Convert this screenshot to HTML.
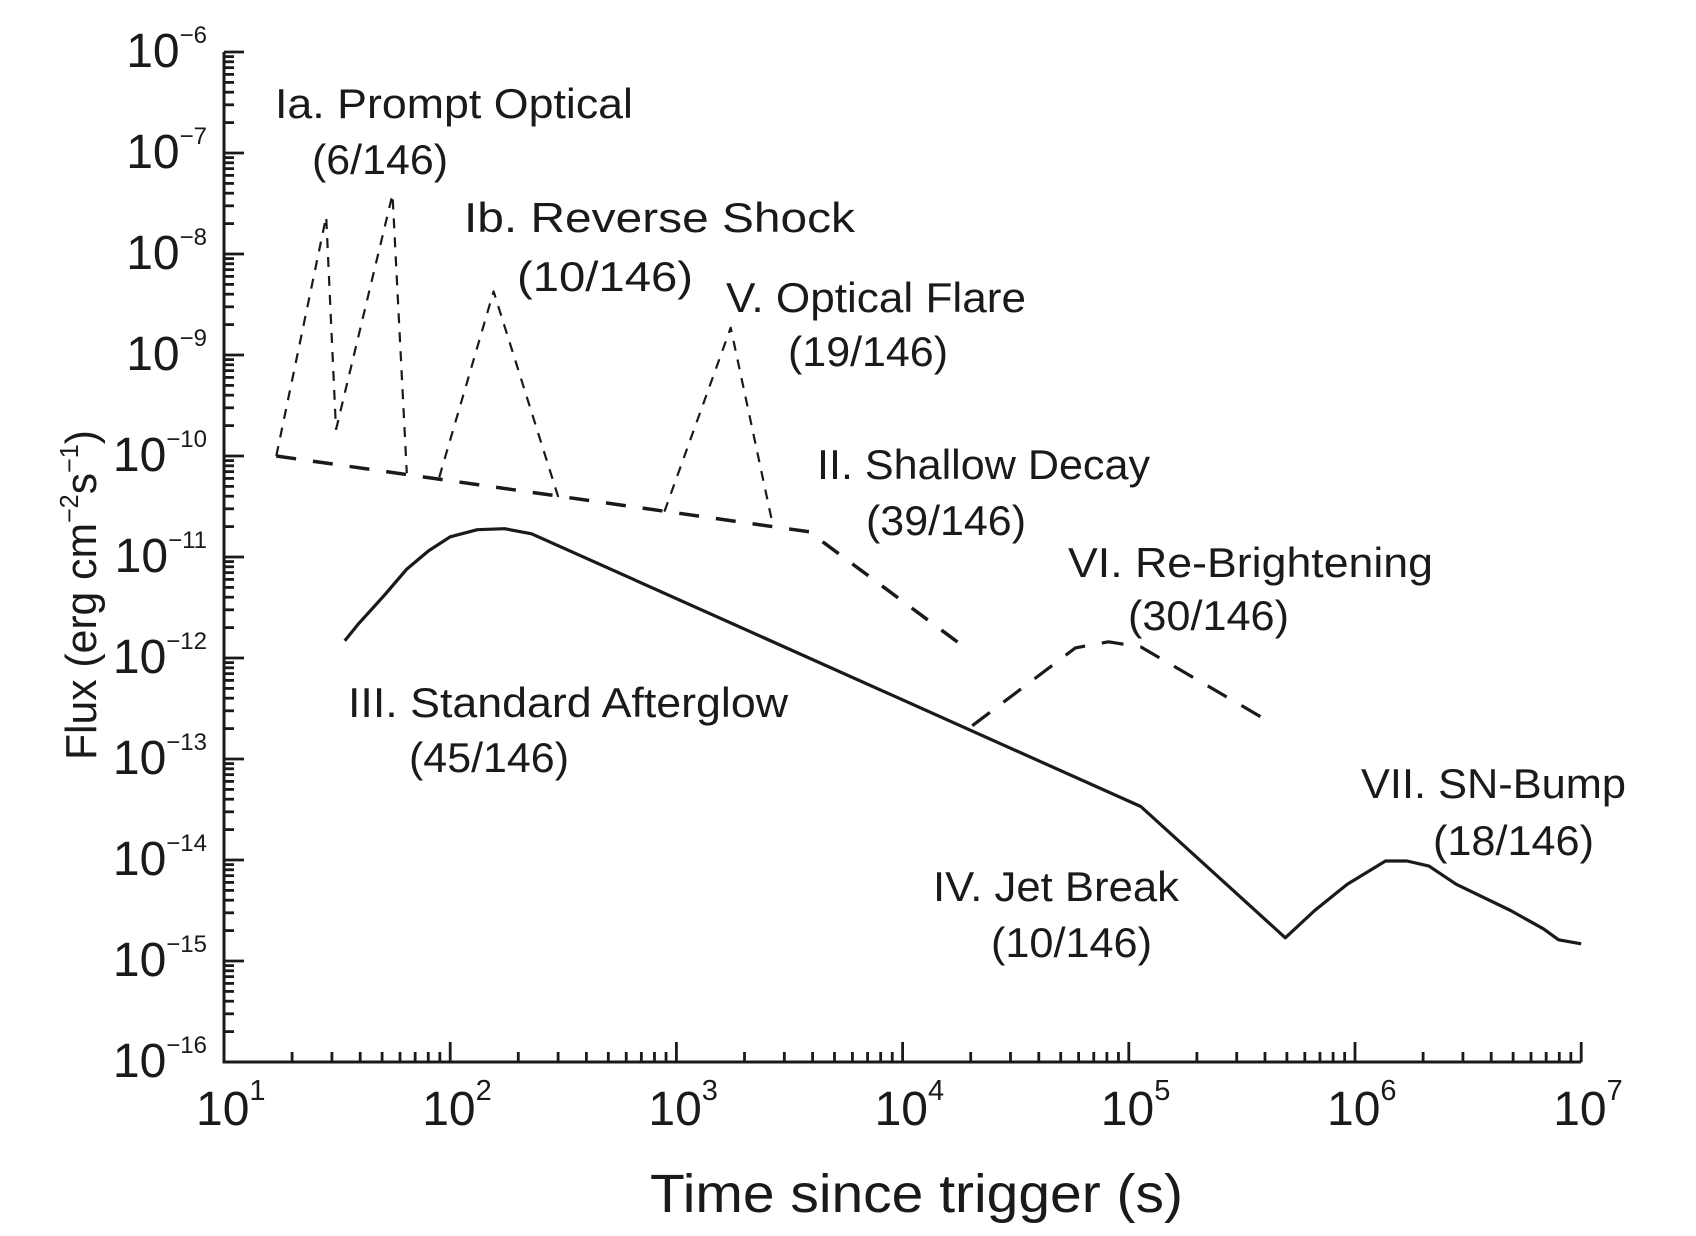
<!DOCTYPE html>
<html><head><meta charset="utf-8"><style>
html,body{margin:0;padding:0;background:#fff;}
svg{display:block;font-family:"Liberation Sans",Arial,sans-serif;}
</style></head><body>
<svg id="chart" width="1696" height="1236" viewBox="0 0 1696 1236">
<g id="axes"></g>
<g id="series"></g>
<g id="labels" fill="#1a1a1a" font-size="42"></g>
</svg>
<script>
// ---- data (log10 time [s], log10 flux) ----
const xTickExps = [1,2,3,4,5,6,7];
const yTickExps = [-6,-7,-8,-9,-10,-11,-12,-13,-14,-15,-16];
const afterglowT = [1.534,1.591,1.712,1.808,1.904,2.0,2.12,2.24,2.36,5.053,5.692,5.822,5.966,6.135,6.23,6.327,6.447,6.688,6.832,6.90,7.0];
const afterglowF = [-11.83,-11.67,-11.37,-11.12,-10.94,-10.80,-10.73,-10.72,-10.77,-13.47,-14.77,-14.50,-14.24,-14.01,-14.01,-14.06,-14.24,-14.50,-14.68,-14.79,-14.83];
const shallowT = [1.231,3.587,4.26];
const shallowF = [-10.0,-10.75,-11.87];
const rebrightT = [4.308,4.764,4.91,5.053,5.582];
const rebrightF = [-12.67,-11.90,-11.84,-11.89,-12.58];
const prompt1T = [1.231,1.452,1.495];
const prompt1F = [-10.0,-7.63,-9.74];
const prompt2T = [1.495,1.745,1.808];
const prompt2F = [-9.74,-7.41,-10.17];
const reverseT = [1.952,2.192,2.481];
const reverseF = [-10.21,-8.37,-10.43];
const flareT = [2.947,3.24,3.428];
const flareF = [-10.55,-8.73,-10.70];

const NS = 'http://www.w3.org/2000/svg';
const X0 = 224, XD = 226.2, Y0 = 52, YD = 101;
function sx(lt){ return X0 + (lt - 1) * XD; }
function sy(lf){ return Y0 + (-6 - lf) * YD; }
function mk(tag, attrs, parent){ const e = document.createElementNS(NS, tag); for (const k in attrs) e.setAttribute(k, attrs[k]); parent.appendChild(e); return e; }

const axes = document.getElementById('axes');
const ser = document.getElementById('series');

let yl = mk('line', {x1:X0, y1:sy(-6), x2:X0, y2:sy(-16)+1.5, stroke:'#1a1a1a','stroke-width':3}, axes);


let xl = mk('line', {x1:X0-1.5, y1:sy(-16), x2:sx(7), y2:sy(-16), stroke:'#1a1a1a','stroke-width':3}, axes);



xTickExps.forEach(function(e, i){
  const x = sx(e);
  if (i > 0) { let t = mk('line', {x1:x, y1:sy(-16), x2:x, y2:sy(-16)-20, stroke:'#1a1a1a','stroke-width':2.8}, axes);
    
     }
  if (i < xTickExps.length - 1) {
    for (let m = 2; m <= 9; m++) { const xm = sx(e + Math.log10(m));
      let t = mk('line', {x1:xm, y1:sy(-16), x2:xm, y2:sy(-16)-10, stroke:'#1a1a1a','stroke-width':2.8}, axes);
      
       }
  }
  const tx = mk('text', {x:x-28, y:1125, 'font-size':48, fill:'#1a1a1a'}, axes);
  tx.textContent = '10';
  const sp = mk('tspan', {dy:-25, 'font-size':29}, tx);
  sp.textContent = String(e);
  
  
});
yTickExps.forEach(function(e, i){
  const y = sy(e);
  if (i < yTickExps.length - 1) {
    let t = mk('line', {x1:X0, y1:y, x2:X0+20, y2:y, stroke:'#1a1a1a','stroke-width':2.8}, axes);
    
    
    for (let m = 2; m <= 9; m++) { const ym = sy(e - 1 + Math.log10(m));
      let t2 = mk('line', {x1:X0, y1:ym, x2:X0+10, y2:ym, stroke:'#1a1a1a','stroke-width':2.8}, axes);
      
       }
  }
  const tx = mk('text', {x:207, y:y+15, 'font-size':48, fill:'#1a1a1a', 'text-anchor':'end'}, axes);
  tx.textContent = '10';
  const sp = mk('tspan', {dy:-24, 'font-size':24}, tx);
  sp.textContent = '\u2212' + String(-e);
  
  
});

function poly(T, F, name, width, dash){
  const pts = T.map(function(t, i){ return sx(t).toFixed(1) + ',' + sy(F[i]).toFixed(1); }).join(' ');
  const p = mk('polyline', {points:pts, fill:'none', stroke:'#1a1a1a', 'stroke-width':width, 'stroke-linejoin':'round'}, ser);
  if (dash) p.setAttribute('stroke-dasharray', dash);
  
  
}
poly(afterglowT, afterglowF, 'standard-afterglow-line', 3.2, null);
poly(shallowT, shallowF, 'shallow-decay-line', 3.5, '20 17');
poly(rebrightT, rebrightF, 'rebrightening-line', 3.2, '22 17');
poly(prompt1T, prompt1F, 'prompt-optical-peak-1', 2.2, '10 9');
poly(prompt2T, prompt2F, 'prompt-optical-peak-2', 2.2, '10 9');
poly(reverseT, reverseF, 'reverse-shock-line', 2.2, '10 9');
poly(flareT, flareF, 'optical-flare-line', 2.2, '10 9');
</script>
<script>
(function(){
  const NS = 'http://www.w3.org/2000/svg';
  const lab = document.getElementById('labels');
  function t(x, y, w, str, name){
    const e = document.createElementNS(NS, 'text');
    e.setAttribute('x', x); e.setAttribute('y', y);
    e.setAttribute('textLength', w); e.setAttribute('lengthAdjust', 'spacingAndGlyphs');
    e.setAttribute('xml:space', 'preserve');
    e.textContent = str;
    
    
    lab.appendChild(e);
  }
  t(275,118,358,'Ia.  Prompt Optical','label-prompt-optical');
  t(312,174,136,'(6/146)','count-prompt-optical');
  t(464,232,391,'Ib. Reverse Shock','label-reverse-shock');
  t(517,291,176,'(10/146)','count-reverse-shock');
  t(726,312,300,'V. Optical Flare','label-optical-flare');
  t(788,366,160,'(19/146)','count-optical-flare');
  t(817,479,333,'II. Shallow Decay','label-shallow-decay');
  t(866,535,160,'(39/146)','count-shallow-decay');
  t(1068,577,365,'VI.  Re-Brightening','label-rebrightening');
  t(1128,630,161,'(30/146)','count-rebrightening');
  t(348,717,440,'III. Standard  Afterglow','label-standard-afterglow');
  t(409,772,160,'(45/146)','count-standard-afterglow');
  t(1361,798,265,'VII. SN-Bump','label-sn-bump');
  t(1433,855,161,'(18/146)','count-sn-bump');
  t(933,901,246,'IV. Jet Break','label-jet-break');
  t(991,957,161,'(10/146)','count-jet-break');
  const xt = document.createElementNS(NS, 'text');
  xt.setAttribute('x', 650); xt.setAttribute('y', 1212);
  xt.setAttribute('font-size', 54);
  xt.setAttribute('textLength', 533); xt.setAttribute('lengthAdjust', 'spacingAndGlyphs');
  xt.textContent = 'Time since trigger (s)';
  
  
  lab.appendChild(xt);
  const yt = document.createElementNS(NS, 'text');
  yt.setAttribute('transform', 'translate(96,760) rotate(-90)');
  yt.setAttribute('font-size', 44);
  yt.setAttribute('textLength', 330); yt.setAttribute('lengthAdjust', 'spacingAndGlyphs');
  yt.innerHTML = 'Flux (erg cm<tspan dy="-18" font-size="26">\u22122</tspan><tspan dy="18">s</tspan><tspan dy="-18" font-size="26">\u22121</tspan><tspan dy="18">)</tspan>';
  
  
  lab.appendChild(yt);
})();
</script>
</body></html>
